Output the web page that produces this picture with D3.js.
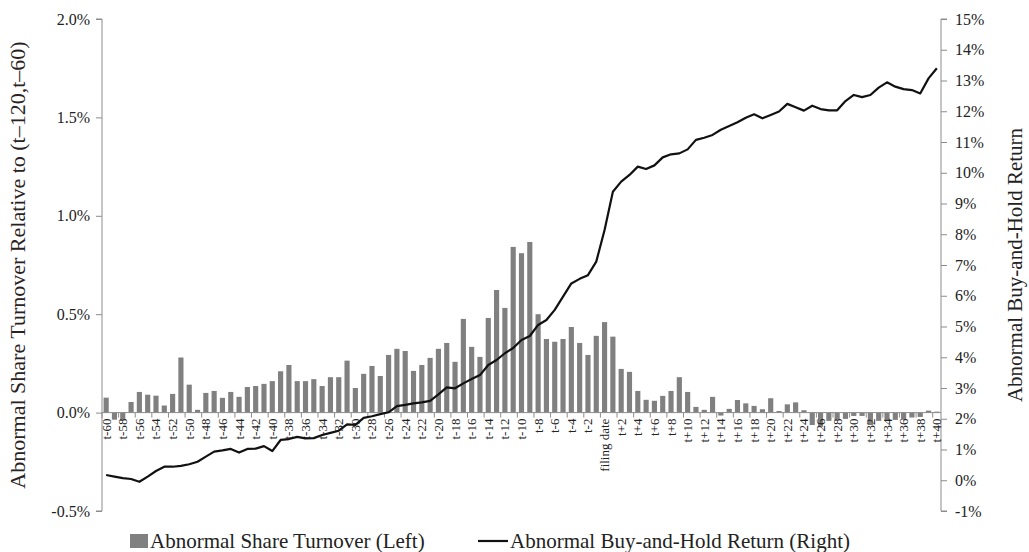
<!DOCTYPE html>
<html>
<head>
<meta charset="utf-8">
<script src="https://cdn.jsdelivr.net/npm/d3@7"></script>
<style>
  html, body { margin: 0; padding: 0; background: #fff; }
  svg { display: block; font-family: "Liberation Serif", "DejaVu Serif", serif; }
</style>
</head>
<body>
<svg id="chart" width="1029" height="552"></svg>
<script>
// ---- Data ----
const categories = [
  "t-60","t-59","t-58","t-57","t-56","t-55","t-54","t-53","t-52","t-51",
  "t-50","t-49","t-48","t-47","t-46","t-45","t-44","t-43","t-42","t-41",
  "t-40","t-39","t-38","t-37","t-36","t-35","t-34","t-33","t-32","t-31",
  "t-30","t-29","t-28","t-27","t-26","t-25","t-24","t-23","t-22","t-21",
  "t-20","t-19","t-18","t-17","t-16","t-15","t-14","t-13","t-12","t-11",
  "t-10","t-9","t-8","t-7","t-6","t-5","t-4","t-3","t-2","t-1",
  "filing date",
  "t+1","t+2","t+3","t+4","t+5","t+6","t+7","t+8","t+9","t+10",
  "t+11","t+12","t+13","t+14","t+15","t+16","t+17","t+18","t+19","t+20",
  "t+21","t+22","t+23","t+24","t+25","t+26","t+27","t+28","t+29","t+30",
  "t+31","t+32","t+33","t+34","t+35","t+36","t+37","t+38","t+39","t+40"
];

// Abnormal share turnover (%), left axis
const turnover = [
  0.076,-0.036,-0.038,0.054,0.105,0.091,0.086,0.036,0.095,0.280,
  0.142,0.014,0.100,0.110,0.075,0.105,0.080,0.130,0.135,0.146,
  0.160,0.210,0.242,0.160,0.160,0.170,0.135,0.180,0.180,0.264,
  0.125,0.197,0.237,0.186,0.293,0.324,0.313,0.212,0.242,0.278,
  0.324,0.354,0.258,0.476,0.334,0.283,0.481,0.623,0.532,0.842,
  0.810,0.867,0.500,0.374,0.360,0.374,0.435,0.354,0.293,0.390,
  0.460,
  0.386,0.222,0.207,0.110,0.065,0.060,0.085,0.110,0.180,0.105,
  0.029,0.014,0.080,-0.015,0.019,0.064,0.047,0.034,0.017,0.073,
  0.008,0.042,0.052,0.012,-0.063,-0.072,-0.042,-0.037,-0.032,-0.017,
  -0.017,-0.063,-0.042,-0.037,-0.037,-0.037,-0.025,-0.022,0.010,0.005
];

// Abnormal buy-and-hold return (%), right axis
const bhar = [
  0.17,0.12,0.07,0.04,-0.05,0.12,0.30,0.44,0.44,0.47,
  0.52,0.60,0.77,0.93,0.97,1.02,0.90,1.02,1.03,1.11,
  0.95,1.31,1.34,1.41,1.36,1.37,1.47,1.54,1.61,1.82,
  1.80,2.03,2.08,2.15,2.21,2.41,2.45,2.50,2.53,2.58,
  2.79,3.02,2.99,3.15,3.29,3.42,3.75,3.91,4.13,4.30,
  4.56,4.69,5.05,5.21,5.54,5.97,6.40,6.55,6.67,7.11,
  8.14,
  9.38,9.71,9.93,10.20,10.12,10.24,10.50,10.60,10.63,10.76,
  11.07,11.14,11.23,11.40,11.52,11.64,11.79,11.90,11.77,11.88,
  11.99,12.24,12.13,12.02,12.18,12.07,12.03,12.03,12.33,12.53,
  12.46,12.53,12.77,12.94,12.80,12.72,12.69,12.58,13.07,13.40
];

const leftTicks = [-0.5, 0.0, 0.5, 1.0, 1.5, 2.0];
const rightTicks = [-1,0,1,2,3,4,5,6,7,8,9,10,11,12,13,14,15];

const leftTitle = "Abnormal Share Turnover Relative to (t\u2013120,t\u201360)";
const rightTitle = "Abnormal Buy-and-Hold Return";
const legendBar = "Abnormal Share Turnover (Left)";
const legendLine = "Abnormal Buy-and-Hold Return (Right)";

// ---- Layout ----
const svg = d3.select("#chart");
const plotL = 102, plotR = 941, plotT = 19, plotB = 511;
const axisColor = "#8c8c8c";
const textColor = "#222";

const x = d3.scaleBand().domain(categories).range([plotL, plotR]).paddingInner(0.38).paddingOuter(0.19);
const yL = d3.scaleLinear().domain([-0.5, 2.0]).range([plotB, plotT]);
const yR = d3.scaleLinear().domain([-1, 15]).range([plotB, plotT]);

// Bars
svg.append("g").selectAll("rect").data(categories).join("rect")
  .attr("x", d => x(d))
  .attr("width", x.bandwidth())
  .attr("y", (d, i) => yL(Math.max(0, turnover[i])))
  .attr("height", (d, i) => Math.abs(yL(turnover[i]) - yL(0)))
  .attr("fill", "#808080");

// Left axis
const gL = svg.append("g").attr("transform", `translate(${plotL},0)`)
  .call(d3.axisLeft(yL).tickValues(leftTicks).tickFormat(d => d.toFixed(1) + "%").tickSize(6).tickPadding(6));
gL.select(".domain").attr("stroke", axisColor).attr("d", `M-6,${plotT}H0V${plotB}H-6`);
gL.selectAll(".tick line").attr("stroke", axisColor);
gL.selectAll(".tick text").attr("fill", textColor).style("font-size", "16px").style("font-family", "Liberation Serif");

// Right axis
const gR = svg.append("g").attr("transform", `translate(${plotR},0)`)
  .call(d3.axisRight(yR).tickValues(rightTicks).tickFormat(d => d + "%").tickSize(6).tickPadding(8));
gR.select(".domain").attr("stroke", axisColor).attr("d", `M6,${plotT}H0V${plotB}H6`);
gR.selectAll(".tick line").attr("stroke", axisColor);
gR.selectAll(".tick text").attr("fill", textColor).style("font-size", "16px").style("font-family", "Liberation Serif");

// X axis at zero
const y0 = yL(0);
const step = x.step();
const gX = svg.append("g");
gX.append("line").attr("x1", plotL).attr("x2", plotR).attr("y1", y0).attr("y2", y0).attr("stroke", axisColor);
const tickCats = categories.filter((d, i) => i % 2 === 0);
gX.selectAll("line.tk").data(tickCats).join("line").attr("class", "tk")
  .attr("x1", d => x(d) - step * x.paddingInner() / 2)
  .attr("x2", d => x(d) - step * x.paddingInner() / 2)
  .attr("y1", y0).attr("y2", y0 + 5)
  .attr("stroke", axisColor);
gX.selectAll("text").data(tickCats).join("text")
  .attr("transform", d => `translate(${x(d) + x.bandwidth() / 2 + 4.5},${y0 + 6}) rotate(-90)`)
  .attr("text-anchor", "end")
  .attr("fill", textColor)
  .style("font-size", "13px")
  .text(d => d);

// Line
const line = d3.line()
  .x((d, i) => x(categories[i]) + x.bandwidth() / 2)
  .y(d => yR(d));
svg.append("path").datum(bhar)
  .attr("d", line)
  .attr("fill", "none")
  .attr("stroke", "#111")
  .attr("stroke-width", 2.2)
  .attr("stroke-linejoin", "round");

// Axis titles
svg.append("text")
  .attr("transform", `translate(25,265) rotate(-90)`)
  .attr("text-anchor", "middle")
  .attr("fill", "#2a2222")
  .style("font-size", "22px")
  .text(leftTitle);
svg.append("text")
  .attr("transform", `translate(1022,265) rotate(-90)`)
  .attr("text-anchor", "middle")
  .attr("fill", textColor)
  .style("font-size", "21px")
  .text(rightTitle);

// Legend
const lg = svg.append("g");
lg.append("rect").attr("x", 130).attr("y", 534).attr("width", 18).attr("height", 14).attr("fill", "#808080");
lg.append("text").attr("x", 150).attr("y", 548).attr("fill", textColor).style("font-size", "21px").text(legendBar);
lg.append("line").attr("x1", 478).attr("x2", 508).attr("y1", 541).attr("y2", 541).attr("stroke", "#111").attr("stroke-width", 2.2);
lg.append("text").attr("x", 510).attr("y", 548).attr("fill", textColor).style("font-size", "21px").text(legendLine);
</script>
</body>
</html>
